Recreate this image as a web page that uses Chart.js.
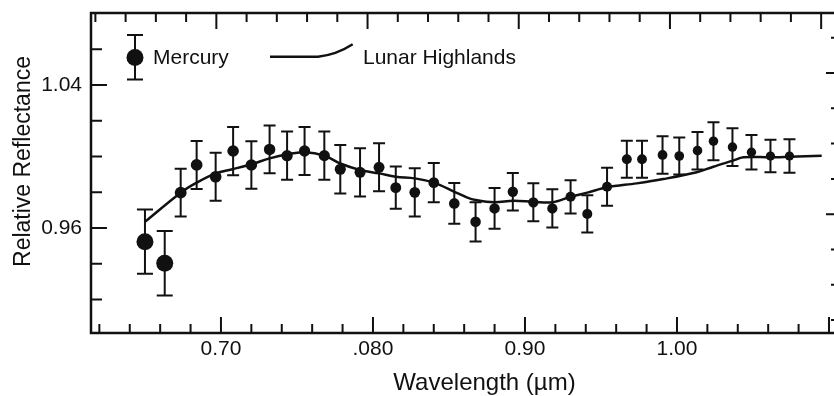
<!DOCTYPE html>
<html>
<head>
<meta charset="utf-8">
<title>Relative Reflectance</title>
<script src="https://cdn.jsdelivr.net/npm/chart.js@4.4.1/dist/chart.umd.min.js"></script>
<style>
    html, body { margin: 0; padding: 0; background: #fff; overflow: hidden; }
    #wrap { width: 834px; height: 396px; }
    #wrap canvas { display: block; }
</style>
</head>
<body>
<div id="wrap"><canvas id="reflectanceChart"></canvas></div>
<script>
// Mercury spectrum: wavelength (µm), relative reflectance, error (+/-)
const mercuryWavelength = [0.650, 0.663, 0.6735, 0.684, 0.6965, 0.708, 0.720, 0.732, 0.7435, 0.755,
    0.768, 0.7785, 0.7915, 0.804, 0.815, 0.8275, 0.840, 0.8535, 0.8675, 0.880,
    0.892, 0.9055, 0.918, 0.930, 0.941, 0.954, 0.967, 0.977, 0.9905, 1.0015,
    1.0135, 1.024, 1.0365, 1.049, 1.0615, 1.074];
const mercuryReflectance = [0.9524, 0.9403, 0.9798, 0.9953, 0.9887, 1.0031, 0.9953, 1.0040, 1.0005, 1.0031,
    1.0005, 0.9929, 0.9912, 0.9940, 0.9826, 0.9800, 0.9854, 0.9738, 0.9635, 0.9710,
    0.9803, 0.9744, 0.9710, 0.9775, 0.9679, 0.9831, 0.9985, 0.9985, 1.0009, 1.0003,
    1.0033, 1.0086, 1.0053, 1.0024, 1.0003, 1.0003];
const mercuryError = [0.018, 0.018, 0.0134, 0.0134, 0.0134, 0.0135, 0.0133, 0.0134, 0.0135, 0.0134,
    0.0135, 0.0135, 0.0135, 0.0134, 0.0118, 0.0135, 0.011, 0.0114, 0.011, 0.0114,
    0.0105, 0.0106, 0.0107, 0.0093, 0.0104, 0.0106, 0.0104, 0.0104, 0.0105, 0.0104,
    0.0105, 0.0106, 0.0106, 0.0096, 0.0091, 0.0094];

// Lunar highlands reference spectrum
const lunarWavelength = [0.650, 0.6735, 0.684, 0.6965, 0.708, 0.720, 0.732, 0.7435, 0.755, 0.768,
    0.7785, 0.7915, 0.804, 0.815, 0.8275, 0.840, 0.8535, 0.8617, 0.8676, 0.8798,
    0.8923, 0.9055, 0.918, 0.930, 0.941, 0.954, 0.9735, 0.991, 1.013, 1.0239,
    1.0367, 1.0437, 1.0617, 1.0739, 1.0952];
const lunarReflectance = [0.9635, 0.9798, 0.9854, 0.9906, 0.9930, 0.9957, 0.9990, 1.0013, 1.0024, 1.0005,
    0.9961, 0.9925, 0.9906, 0.9887, 0.9878, 0.9854, 0.9803, 0.9772, 0.9757, 0.9744,
    0.9753, 0.9747, 0.9744, 0.9775, 0.9798, 0.9828, 0.9850, 0.9874, 0.9912, 0.9943,
    0.9977, 0.9996, 0.9996, 0.9999, 1.0005];

// Axis ticks and labels
const xTicks = [0.62, 0.64, 0.66, 0.68, 0.70, 0.72, 0.74, 0.76, 0.78, 0.80, 0.82, 0.84, 0.86,
    0.88, 0.90, 0.92, 0.94, 0.96, 0.98, 1.00, 1.02, 1.04, 1.06, 1.08, 1.10];
const xMajorTicks = [0.70, 0.80, 0.90, 1.00, 1.10];
const xTickLabels = ['0.70', '.080', '0.90', '1.00', ''];
const yTicks = [0.92, 0.94, 0.96, 0.98, 1.00, 1.02, 1.04, 1.06];
const yMajorTicks = [0.96, 1.04];
const yTickLabels = ['0.96', '1.04'];
const rightTicks = [1, 2, 3, 4, 5, 6, 7, 8, 9];
const rightMajorTicks = [4, 8];

const FONT = '"Liberation Sans", Arial, Helvetica, sans-serif';
const INK = '#111';

document.addEventListener('DOMContentLoaded', function() {
    initializeChart();
});

function findIndex(list, v) {
    return list.findIndex(m => Math.abs(m - v) < 1e-6);
}

function toPoints(xs, ys) {
    return xs.map((x, i) => ({ x: x, y: ys[i] }));
}

// keep the plot frame where the figure has it: no extra label padding
function noPadding(scale) {
    scale.paddingLeft = 0;
    scale.paddingRight = 0;
    scale.paddingTop = 0;
    scale.paddingBottom = 0;
}

// frame, inward ticks, error bars, legend and axis titles
const frameAndErrorBars = {
    id: 'frameAndErrorBars',
    afterDatasetsDraw(chart) {
        const ctx = chart.ctx;
        const xs = chart.scales.x;
        const ys = chart.scales.y;
        ctx.save();
        ctx.strokeStyle = INK;
        ctx.lineWidth = 2;
        mercuryWavelength.forEach((w, i) => {
            const x = xs.getPixelForValue(w);
            const top = ys.getPixelForValue(mercuryReflectance[i] + mercuryError[i]);
            const bot = ys.getPixelForValue(mercuryReflectance[i] - mercuryError[i]);
            const cap = i < 2 ? 8 : 6;
            ctx.beginPath();
            ctx.moveTo(x, top); ctx.lineTo(x, bot);
            ctx.moveTo(x - cap, top); ctx.lineTo(x + cap, top);
            ctx.moveTo(x - cap, bot); ctx.lineTo(x + cap, bot);
            ctx.stroke();
        });
        ctx.restore();
    },
    afterDraw(chart) {
        const ctx = chart.ctx;
        const area = chart.chartArea;
        const xs = chart.scales.x;
        const xt = chart.scales.x2;
        const ys = chart.scales.y;
        const yr = chart.scales.y2;
        ctx.save();
        ctx.strokeStyle = INK;
        ctx.fillStyle = INK;

        // frame (no right edge line)
        ctx.lineWidth = 2.5;
        ctx.beginPath();
        ctx.moveTo(area.right, area.top);
        ctx.lineTo(area.left, area.top);
        ctx.lineTo(area.left, area.bottom);
        ctx.lineTo(area.right, area.bottom);
        ctx.stroke();

        ctx.lineWidth = 2;
        ctx.beginPath();
        xTicks.forEach(v => {
            const major = findIndex(xMajorTicks, v) >= 0;
            const len = major ? 16 : 9;
            const xb = xs.getPixelForValue(v);
            ctx.moveTo(xb, area.bottom); ctx.lineTo(xb, area.bottom - len);
            const xtop = xt.getPixelForValue(v);
            ctx.moveTo(xtop, area.top); ctx.lineTo(xtop, area.top + len);
        });
        yTicks.forEach(v => {
            const major = findIndex(yMajorTicks, v) >= 0;
            const y = ys.getPixelForValue(v);
            ctx.moveTo(area.left, y); ctx.lineTo(area.left + (major ? 16 : 11), y);
        });
        rightTicks.forEach(v => {
            const major = findIndex(rightMajorTicks, v) >= 0;
            const y = yr.getPixelForValue(v);
            ctx.moveTo(area.right, y); ctx.lineTo(area.right - (major ? 8 : 3), y);
        });
        ctx.stroke();

        // legend
        const lx = area.left, ly = area.top;
        ctx.lineWidth = 2;
        ctx.beginPath();
        ctx.moveTo(lx + 44, ly + 22); ctx.lineTo(lx + 44, ly + 66.5);
        ctx.moveTo(lx + 36, ly + 22); ctx.lineTo(lx + 52, ly + 22);
        ctx.moveTo(lx + 36, ly + 66.5); ctx.lineTo(lx + 52, ly + 66.5);
        ctx.stroke();
        ctx.beginPath();
        ctx.arc(lx + 44, ly + 44.5, 8.5, 0, Math.PI * 2);
        ctx.fill();
        ctx.lineWidth = 2.5;
        ctx.beginPath();
        ctx.moveTo(lx + 179, ly + 43.7);
        ctx.lineTo(lx + 227, ly + 43.7);
        ctx.quadraticCurveTo(lx + 245, ly + 42, lx + 261.7, ly + 31.3);
        ctx.stroke();
        ctx.font = '21px ' + FONT;
        ctx.textBaseline = 'alphabetic';
        ctx.textAlign = 'left';
        ctx.fillText('Mercury', lx + 62, ly + 51);
        ctx.fillText('Lunar Highlands', lx + 272, ly + 50.5);

        // axis titles
        ctx.font = '24px ' + FONT;
        ctx.textAlign = 'center';
        ctx.fillText('Wavelength (µm)', (area.left + area.right) / 2 + 22, area.bottom + 57);
        ctx.font = '23px ' + FONT;
        ctx.translate(area.left - 61, (area.top + area.bottom) / 2 - 11.5);
        ctx.rotate(-Math.PI / 2);
        ctx.fillText('Relative Reflectance', 0, 0);
        ctx.restore();
    }
};

function initializeChart() {
    const ctx = document.getElementById('reflectanceChart').getContext('2d');
    Chart.defaults.font.family = FONT;
    Chart.defaults.color = INK;

    const chart = new Chart(ctx, {
        type: 'scatter',
        data: {
            datasets: [{
                label: 'Mercury',
                data: toPoints(mercuryWavelength, mercuryReflectance),
                backgroundColor: INK,
                borderWidth: 0,
                pointRadius: c => c.dataIndex < 2 ? 8.5 : 6 - c.dataIndex * 0.04
            }, {
                type: 'line',
                label: 'Lunar Highlands',
                data: toPoints(lunarWavelength, lunarReflectance),
                borderColor: INK,
                borderWidth: 2.5,
                pointRadius: 0,
                fill: false,
                tension: 0.35
            }]
        },
        options: {
            responsive: true,
            maintainAspectRatio: false,
            animation: false,
            layout: {
                autoPadding: false,
                padding: { top: 13, right: 0, bottom: 0, left: 0 }
            },
            plugins: {
                legend: { display: false },
                tooltip: { enabled: false }
            },
            scales: {
                x: {
                    type: 'linear',
                    position: 'bottom',
                    min: 0.6145,
                    max: 1.1033,
                    grid: { display: false, drawTicks: false },
                    border: { display: false },
                    afterBuildTicks: scale => { scale.ticks = xTicks.map(v => ({ value: v })); },
                    afterFit: scale => { scale.height = 63; noPadding(scale); },
                    ticks: {
                        autoSkip: false,
                        maxRotation: 0,
                        padding: 4,
                        font: { size: 21 },
                        callback: v => {
                            const i = findIndex(xMajorTicks, v);
                            return i >= 0 ? xTickLabels[i] : '';
                        }
                    }
                },
                x2: {
                    type: 'linear',
                    position: 'top',
                    display: false,
                    min: 0.6171,
                    max: 1.1085
                },
                y: {
                    type: 'linear',
                    position: 'left',
                    min: 0.9013,
                    max: 1.0803,
                    grid: { display: false, drawTicks: false },
                    border: { display: false },
                    afterBuildTicks: scale => { scale.ticks = yTicks.map(v => ({ value: v })); },
                    afterFit: scale => { scale.width = 91; noPadding(scale); },
                    ticks: {
                        autoSkip: false,
                        padding: 9,
                        font: { size: 21 },
                        callback: v => {
                            const i = findIndex(yMajorTicks, v);
                            return i >= 0 ? yTickLabels[i] : '';
                        }
                    }
                },
                y2: {
                    type: 'linear',
                    position: 'right',
                    display: false,
                    min: 0.635,
                    max: 9.70
                }
            }
        },
        plugins: [frameAndErrorBars]
    });

    window.reflectanceChart = chart;
}
</script>
</body>
</html>
